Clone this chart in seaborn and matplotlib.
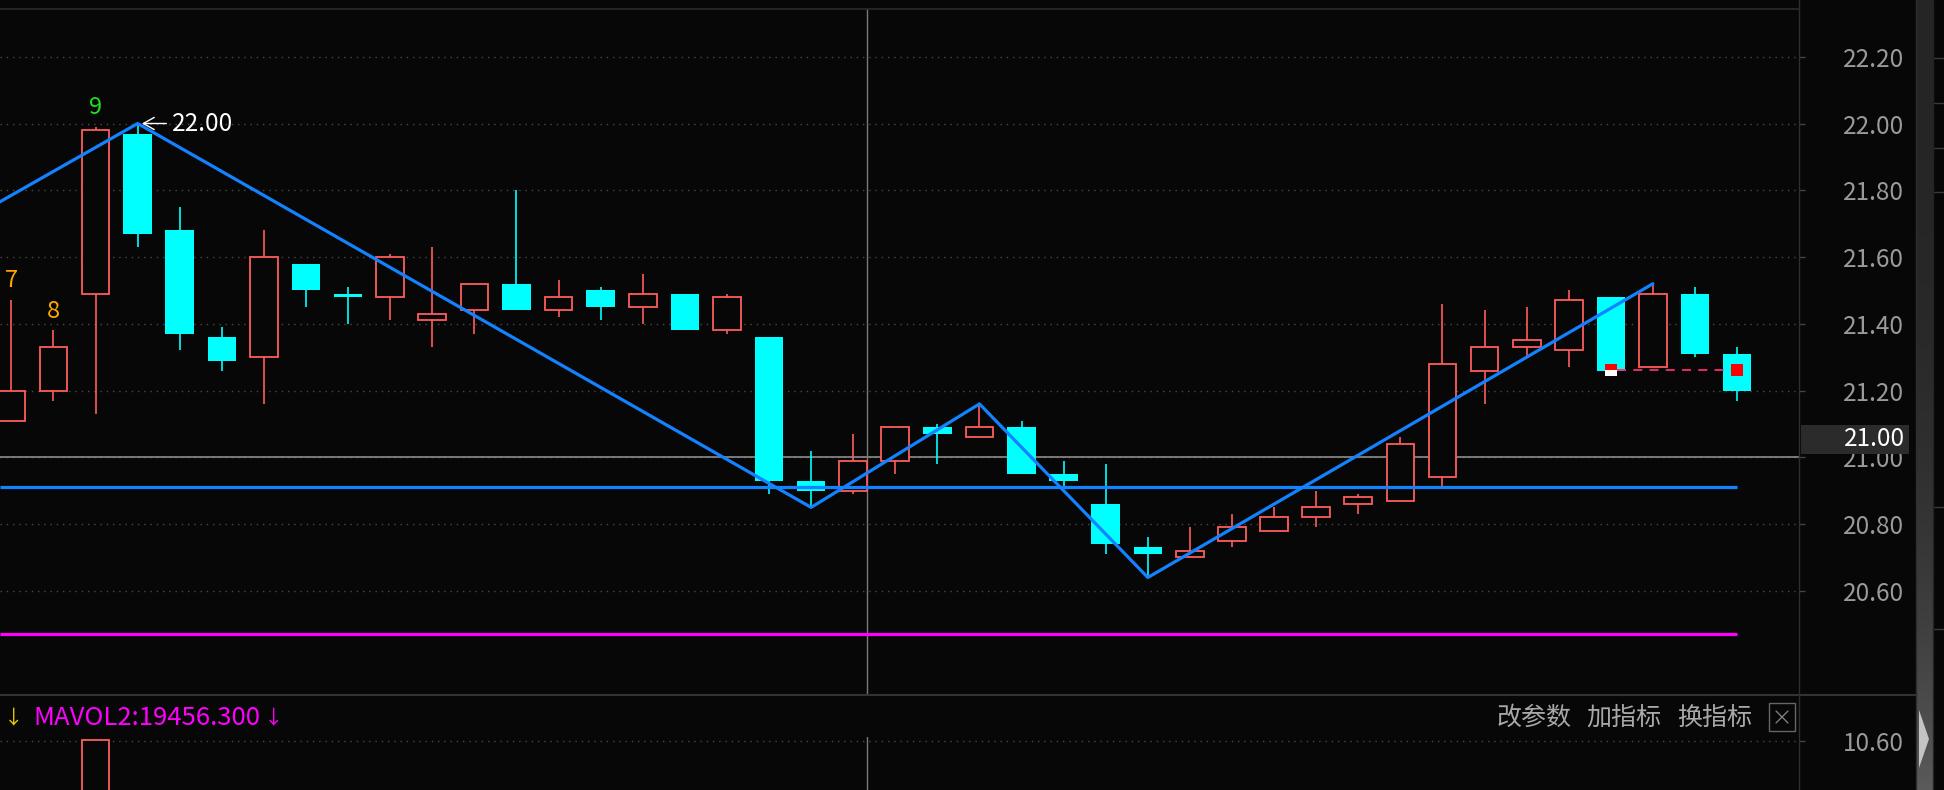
import numpy as np
import matplotlib
matplotlib.use('Agg')
import matplotlib.pyplot as plt
import seaborn as sns
from matplotlib.patches import Rectangle, Polygon
from matplotlib.lines import Line2D

# daily candles (index 0 = leftmost, partly cut)
opens  = [21.11, 21.20, 21.49, 21.97, 21.68, 21.36, 21.30, 21.58, 21.49, 21.48,
          21.41, 21.44, 21.52, 21.44, 21.50, 21.45, 21.49, 21.38, 21.36, 20.93,
          20.90, 20.99, 21.09, 21.06, 21.09, 20.95, 20.86, 20.73, 20.70, 20.75,
          20.78, 20.82, 20.86, 20.87, 20.94, 21.26, 21.33, 21.32, 21.48, 21.27,
          21.49, 21.31]
closes = [21.20, 21.33, 21.98, 21.67, 21.37, 21.29, 21.60, 21.50, 21.48, 21.60,
          21.43, 21.52, 21.44, 21.48, 21.45, 21.49, 21.38, 21.48, 20.93, 20.90,
          20.99, 21.09, 21.07, 21.09, 20.95, 20.93, 20.74, 20.71, 20.72, 20.79,
          20.82, 20.85, 20.88, 21.04, 21.28, 21.33, 21.35, 21.47, 21.26, 21.49,
          21.31, 21.20]
highs  = [21.47, 21.38, 21.99, 22.00, 21.75, 21.39, 21.68, 21.58, 21.51, 21.61,
          21.63, 21.52, 21.80, 21.53, 21.51, 21.55, 21.49, 21.49, 21.36, 21.02,
          21.07, 21.09, 21.10, 21.16, 21.11, 20.99, 20.98, 20.76, 20.79, 20.83,
          20.85, 20.90, 20.89, 21.06, 21.46, 21.44, 21.45, 21.50, 21.48, 21.52,
          21.51, 21.33]
lows   = [21.11, 21.17, 21.13, 21.63, 21.32, 21.26, 21.16, 21.45, 21.40, 21.41,
          21.33, 21.37, 21.44, 21.42, 21.41, 21.40, 21.38, 21.37, 20.89, 20.85,
          20.89, 20.95, 20.98, 21.06, 20.95, 20.91, 20.71, 20.64, 20.70, 20.73,
          20.78, 20.79, 20.83, 20.87, 20.91, 21.16, 21.30, 21.27, 21.26, 21.27,
          21.30, 21.17]

# zigzag pivots (first one lies off the left edge)
zz_idx = [-3, 3, 19, 23, 27, 39]
zz_price = [21.57, 22.00, 20.85, 21.16, 20.64, 21.52]

# nine-turn counts above candles
count_idx = [0, 1, 2]
count_txt = ['7', '8', '9']

support_level = 20.91
magenta_level = 20.47
cross_price = 21.00
cross_idx = 20.33
signal_idx = [38, 41]
signal_price = 21.263

price_ticks = [20.60, 20.80, 21.00, 21.20, 21.40, 21.60, 21.80, 22.00, 22.20]
vol_idx = [2]
vol_val = [10.62]
vol_tick = 10.60

W, H = 1944, 790
BG = '#070707'
UP = '#ff5c5c'
DOWN = '#00ffff'
BLUE = '#1282ff'
GRID = '#4a4a4a'
LABEL = '#9a9a9a'

sns.set_style('dark', {'axes.facecolor': BG, 'figure.facecolor': BG, 'axes.grid': False})
plt.rcParams['font.family'] = ['Noto Sans CJK SC', 'DejaVu Sans']


def fbox(x0, y0, x1, y1):
    # pixel box (top-left origin) -> figure fraction rect
    return [x0 / W, 1 - y1 / H, (x1 - x0) / W, (y1 - y0) / H]


def fx(px):
    return px / W


def fy(py):
    return 1 - py / H


fig = plt.figure(figsize=(W / 100, H / 100), dpi=100, facecolor=BG)
ax = fig.add_axes(fbox(0, 9, 1799, 695))
axv = fig.add_axes(fbox(0, 737, 1799, 790))

xs = np.arange(len(opens))
for i in xs:
    o, c, h, l = opens[i], closes[i], highs[i], lows[i]
    top, bot = max(o, c), min(o, c)
    if c >= o:
        ax.vlines(i, top, h, color=UP, lw=1.2, zorder=2)
        ax.vlines(i, l, bot, color=UP, lw=1.2, zorder=2)
        ax.bar(i, max(top - bot, 0.004), bottom=bot, width=0.66,
               facecolor=BG, edgecolor=UP, lw=1.3, zorder=3)
    else:
        ax.vlines(i, l, h, color=DOWN, lw=1.2, zorder=2)
        ax.bar(i, max(top - bot, 0.008), bottom=bot, width=0.68,
               color=DOWN, lw=0, zorder=3)

xl = (-0.271, 42.47)
ax.set_xlim(*xl)
ax.set_ylim(20.288, 22.343)

# lines
ax.axhline(cross_price, color='#8c8c8c', lw=1.2, zorder=1)
ax.axvline(cross_idx, color='#7a7a7a', lw=1, zorder=1)
ax.hlines(support_level, xl[0], xs[-1], color=BLUE, lw=2.3, zorder=4)
ax.hlines(magenta_level, xl[0], xs[-1], color='#ff00ff', lw=2.3, zorder=4)
sns.lineplot(x=zz_idx, y=zz_price, ax=ax, color=BLUE, lw=2.3, sort=False,
             estimator=None, zorder=5)

# signal markers and dashed line
ax.bar(signal_idx[0], 0.018, bottom=signal_price, width=0.28, color='#ff0000', lw=0, zorder=6)
ax.bar(signal_idx[0], 0.018, bottom=signal_price - 0.018, width=0.28, color='white', lw=0, zorder=6)
ax.bar(signal_idx[1], 0.036, bottom=signal_price - 0.018, width=0.28, color='#ff0000', lw=0, zorder=6)
ax.hlines(signal_price, signal_idx[0] + 0.14, signal_idx[1] - 0.14, color='#ff2a6a',
          lw=1.3, linestyles=(0, (5, 4)), zorder=6)

# counts
for i, t in zip(count_idx, count_txt):
    ax.annotate(t, xy=(i, highs[i]), xytext=(0, 14), textcoords='offset points',
                ha='center', va='center', fontsize=17,
                color='#1fe01f' if t == '9' else '#ffa500', zorder=7)

# peak label
ax.annotate(f'{zz_price[1]:.2f}', xy=(zz_idx[1] + 0.1, zz_price[1]), xytext=(22, 0),
            textcoords='offset points', ha='left', va='center', fontsize=17.5, color='white',
            arrowprops=dict(arrowstyle='->,head_length=0.45,head_width=0.25', color='white',
                            lw=1, shrinkA=2, shrinkB=0), zorder=7)

ax.set_xticks([])
ax.yaxis.tick_right()
ax.set_yticks(price_ticks)
ax.set_yticklabels([f'{v:.2f}' for v in price_ticks])
ax.tick_params(axis='y', colors='#444444', length=4.5, width=1, labelcolor=LABEL,
               labelsize=17.5, pad=71)
for t in ax.get_yticklabels():
    t.set_horizontalalignment('right')
ax.yaxis.grid(True, color=GRID, linestyle=(0, (1, 3.5)), lw=1)
for s in ax.spines.values():
    s.set_visible(False)

# volume panel
axv.bar(vol_idx, vol_val, width=0.66, facecolor=BG, edgecolor=UP, lw=1.3, zorder=3)
axv.axvline(cross_idx, color='#7a7a7a', lw=1, zorder=1)
axv.set_xlim(*xl)
axv.set_ylim(9.375, 10.70)
axv.set_xticks([])
axv.yaxis.tick_right()
axv.set_yticks([vol_tick])
axv.set_yticklabels([f'{vol_tick:.2f}'])
axv.tick_params(axis='y', colors='#444444', length=4.5, width=1, labelcolor=LABEL,
                labelsize=17.5, pad=71)
for t in axv.get_yticklabels():
    t.set_horizontalalignment('right')
axv.yaxis.grid(True, color=GRID, linestyle=(0, (1, 3.5)), lw=1)
for s in axv.spines.values():
    s.set_visible(False)

# frame lines
fig.add_artist(Line2D([0, fx(1799)], [fy(9), fy(9)], color='#2a2a2a', lw=1.2))
fig.add_artist(Line2D([0, fx(1916)], [fy(695), fy(695)], color='#333333', lw=1.5))
fig.add_artist(Line2D([fx(1799), fx(1799)], [0, 1], color='#2e2e2e', lw=1))
fig.add_artist(Line2D([fx(1916), fx(1916)], [0, 1], color='#2e2e2e', lw=1))

# scroll strip on the far right
axs = fig.add_axes(fbox(1917, 0, 1932, 790))
grad = np.linspace(0, 1, 200) ** 3
axs.imshow(grad[:, None], aspect='auto', cmap=sns.dark_palette('#5a5a5a', as_cmap=True),
           extent=(0, 1, 1, 0), vmin=0, vmax=1)
axs.set_axis_off()
fig.add_artist(Polygon([(fx(1919), fy(710)), (fx(1919), fy(768)), (fx(1929), fy(739))],
                       closed=True, facecolor='#c4c4c4', edgecolor='none', transform=fig.transFigure))
for py in [58, 103, 148, 192, 507, 629]:
    fig.add_artist(Line2D([fx(1933), 1], [fy(py), fy(py)], color='#3a3a3a', lw=1))
fig.add_artist(Line2D([fx(1933), fx(1933)], [0, 1], color='#242424', lw=1))

# current price box on the axis
fig.add_artist(Rectangle((fx(1801), fy(454)), fx(108), 29 / H, transform=fig.transFigure,
                         facecolor='#2b2b2b', edgecolor='none', zorder=5))
fig.text(fx(1905), fy(439), f'{cross_price:.2f}', color='white', ha='right', va='center',
         fontsize=17.5, zorder=6)

# indicator header
fig.text(fx(4), fy(718), '↓', color='#e8d000', fontsize=14, va='center', ha='left')
fig.text(fx(33), fy(718), 'MAVOL2:19456.300', color='#ff00ff', fontsize=18.5, va='center', ha='left')
fig.text(fx(264), fy(718), '↓', color='#ff00ff', fontsize=14, va='center', ha='left')
for t, cx in zip(['改参数', '加指标', '换指标'], [1534, 1624, 1715]):
    fig.text(fx(cx), fy(718), t, color='#a8a8a8', fontsize=18, va='center', ha='center')
fig.add_artist(Rectangle((fx(1769), fy(731)), fx(26), 28 / H, transform=fig.transFigure,
                         facecolor='none', edgecolor='#666666', lw=1))
fig.add_artist(Line2D([fx(1776), fx(1788)], [fy(711), fy(723)], color='#888888', lw=0.9))
fig.add_artist(Line2D([fx(1776), fx(1788)], [fy(723), fy(711)], color='#888888', lw=0.9))

fig.savefig('out.png', dpi=100, facecolor=BG)
